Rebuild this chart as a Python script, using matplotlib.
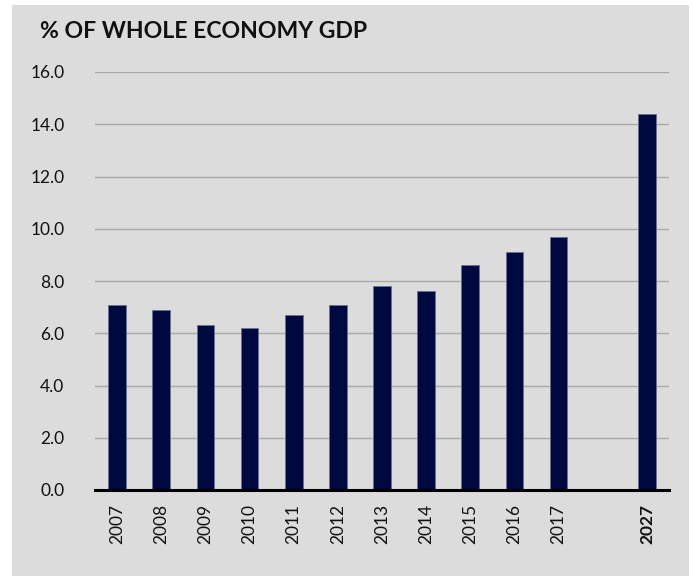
import numpy as np
import matplotlib.pyplot as plt
from matplotlib.patches import Rectangle

years = ['2007', '2008', '2009', '2010', '2011', '2012', '2013', '2014',
         '2015', '2016', '2017', '2027']
share_gdp = [7.1, 6.9, 6.3, 6.2, 6.7, 7.1, 7.8, 7.6, 8.6, 9.1, 9.7, 14.4]
# one empty slot is left between 2017 and the 2027 projection
slots = [0, 1, 2, 3, 4, 5, 6, 7, 8, 9, 10, 12]
yticks = [0, 2, 4, 6, 8, 10, 12, 14, 16]

plt.rcParams['font.family'] = ['Lato', 'DejaVu Sans']

fig = plt.figure(figsize=(6.93, 5.76), dpi=100, facecolor='white')
# grey panel behind the chart
fig.patches.append(Rectangle((12 / 693, 0), 677 / 693, 571 / 576,
                             transform=fig.transFigure, facecolor='#dcdcdc',
                             edgecolor='none', zorder=-5))

ax = fig.add_axes([95 / 693, 86 / 576, 574 / 693, 418 / 576])
ax.set_facecolor('none')

ax.bar(slots, share_gdp, width=0.4, color='#000840',
       edgecolor='#6b7090', linewidth=0.6, zorder=3)

ax.set_xlim(-0.5, 12.5)
ax.set_ylim(0, 16)
ax.set_yticks(yticks)
ax.set_yticklabels([f'{v:.1f}' for v in yticks], fontsize=12.5)
ax.set_xticks(slots)
ax.set_xticklabels(years, rotation=90, fontsize=12.5)
ax.get_xticklabels()[-1].set_fontweight('bold')
ax.tick_params(axis='both', length=0, colors='#111111')
ax.tick_params(axis='y', pad=22)
ax.tick_params(axis='x', pad=10)

ax.grid(axis='y', color='#a9a9a9', linewidth=1.0, zorder=0)
for side in ['top', 'right', 'left']:
    ax.spines[side].set_visible(False)
ax.spines['bottom'].set_linewidth(2.2)
ax.spines['bottom'].set_color('black')
ax.spines['bottom'].set_zorder(4)

fig.text(40 / 693, 1 - 32 / 576, '% OF WHOLE ECONOMY GDP', fontsize=16.6,
         fontweight='bold', color='#111111', va='center', ha='left')

fig.savefig('out.png', dpi=100, facecolor='white')
